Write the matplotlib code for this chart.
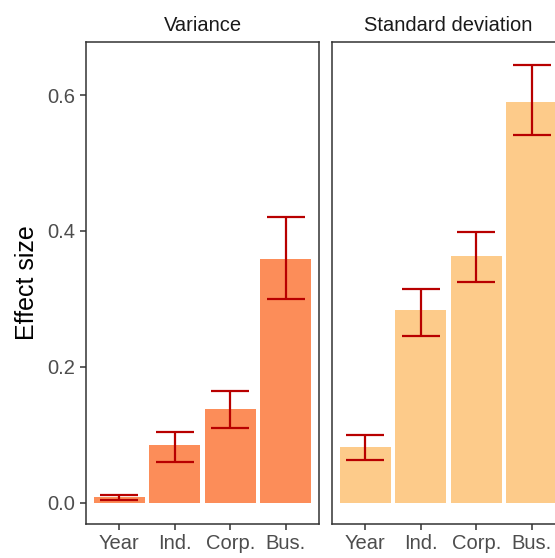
import numpy as np
import matplotlib.pyplot as plt

plt.rcParams['font.family'] = ['Liberation Sans', 'DejaVu Sans']

categories = ['Year', 'Ind.', 'Corp.', 'Bus.']
panels = ['Variance', 'Standard deviation']
var_vals = [0.008, 0.085, 0.138, 0.359]
var_lo = [0.004, 0.060, 0.110, 0.300]
var_hi = [0.012, 0.104, 0.165, 0.421]
sd_vals = [0.082, 0.284, 0.363, 0.590]
sd_lo = [0.063, 0.246, 0.325, 0.541]
sd_hi = [0.100, 0.315, 0.399, 0.644]
colors = ['#FC8D59', '#FDCB8A']

W, H = 555, 558
fig = plt.figure(figsize=(W / 100, H / 100), dpi=100)

# panel boxes in pixels (left, top, width, height); second one runs off the edge
boxes = [(86, 42, 233, 482), (332, 42, 233, 482)]
data = [(var_vals, var_lo, var_hi), (sd_vals, sd_lo, sd_hi)]

x = np.arange(1, len(categories) + 1)
for k, (l, t, w, h) in enumerate(boxes):
    ax = fig.add_axes([l / W, 1 - (t + h) / H, w / W, h / H])
    vals, lo, hi = data[k]
    ax.bar(x, vals, width=0.92, color=colors[k], zorder=1)
    ax.errorbar(x, vals, yerr=[np.array(vals) - np.array(lo), np.array(hi) - np.array(vals)],
                fmt='none', ecolor='#B80000', elinewidth=1.6, capsize=14, capthick=1.6, zorder=2)
    ax.set_xlim(0.4, 4.6)
    ax.set_ylim(-0.031, 0.678)
    ax.set_xticks(x)
    ax.set_xticklabels(categories)
    ax.set_yticks([0.0, 0.2, 0.4, 0.6])
    ax.set_yticklabels(['0.0', '0.2', '0.4', '0.6'])
    for s in ax.spines.values():
        s.set_color('#333333')
        s.set_linewidth(1.1)
    ax.tick_params(colors='#333333', labelcolor='#4D4D4D', labelsize=14.5, length=4.5, width=1.1, pad=3)
    ax.set_title(panels[k], fontsize=14.5, color='#1A1A1A', pad=8)
    if k == 0:
        ax.set_ylabel('Effect size', fontsize=18, color='black', labelpad=6)
    else:
        ax.tick_params(axis='y', left=False, labelleft=False)

fig.savefig('out.png', dpi=100)
